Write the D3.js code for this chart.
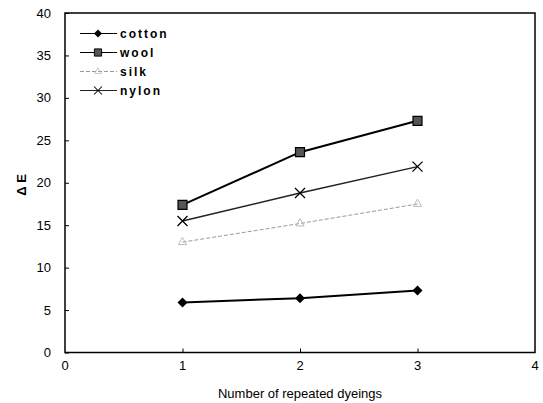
<!DOCTYPE html>
<html>
<head>
<meta charset="utf-8">
<script src="https://cdn.jsdelivr.net/npm/d3@7"></script>
<style>
  body { margin: 0; background: #fff; }
  text { font-family: Arial, 'Liberation Sans', sans-serif; }
</style>
</head>
<body>
<div id="chart"></div>
<script>
// data
var dyeings = [1, 2, 3]
var cotton = [5.9, 6.4, 7.3]
var wool = [17.4, 23.6, 27.3]
var silk = [13.0, 15.2, 17.5]
var nylon = [15.5, 18.8, 21.9]
var xTicks = [0, 1, 2, 3, 4]
var yTicks = [0, 5, 10, 15, 20, 25, 30, 35, 40]
var seriesNames = ['cotton', 'wool', 'silk', 'nylon']

var series = [
  { name: 'cotton', values: cotton },
  { name: 'wool', values: wool },
  { name: 'silk', values: silk },
  { name: 'nylon', values: nylon }
]

var width = 543, height = 403
var plotLeft = 65, plotRight = 535, plotTop = 13, plotBottom = 352.5

var svg = d3.select('#chart').append('svg')
  .attr('width', width)
  .attr('height', height)

var x = d3.scaleLinear().domain([0, 4]).range([plotLeft, plotRight])
var y = d3.scaleLinear().domain([0, 40]).range([plotBottom, plotTop])

// frame
svg.append('rect')
  .attr('x', plotLeft).attr('y', plotTop)
  .attr('width', plotRight - plotLeft).attr('height', plotBottom - plotTop)
  .attr('fill', 'none').attr('stroke', '#000').attr('stroke-width', 1.5)

// y axis, ticks pointing inwards
var yAxis = svg.append('g')
  .attr('transform', 'translate(' + plotLeft + ',0)')
  .call(d3.axisRight(y).tickValues(yTicks).tickSize(4).tickFormat(''))
yAxis.select('.domain').remove()
yAxis.selectAll('line').attr('stroke', '#000')

svg.selectAll('.ylab')
  .data(yTicks)
  .enter().append('text')
  .attr('class', 'ylab')
  .attr('x', 51)
  .attr('y', function (d) { return y(d) })
  .attr('dy', '0.35em')
  .attr('text-anchor', 'end')
  .attr('font-size', 13)
  .text(function (d) { return d })

// x axis, ticks pointing inwards
var xAxis = svg.append('g')
  .attr('transform', 'translate(0,' + plotBottom + ')')
  .call(d3.axisTop(x).tickValues([1, 2, 3]).tickSize(4).tickFormat(''))
xAxis.select('.domain').remove()
xAxis.selectAll('line').attr('stroke', '#000')

svg.selectAll('.xlab')
  .data(xTicks)
  .enter().append('text')
  .attr('class', 'xlab')
  .attr('x', function (d) { return x(d) })
  .attr('y', 370)
  .attr('text-anchor', 'middle')
  .attr('font-size', 13)
  .text(function (d) { return d })

svg.append('text')
  .attr('x', (plotLeft + plotRight) / 2)
  .attr('y', 398)
  .attr('text-anchor', 'middle')
  .attr('font-size', 13)
  .text('Number of repeated dyeings')

svg.append('text')
  .attr('transform', 'translate(26,' + 185 + ') rotate(-90)')
  .attr('text-anchor', 'middle')
  .attr('font-size', 13)
  .attr('font-weight', 'bold')
  .text('Δ E')

// styles per series
function lineStyle (name) {
  if (name == 'silk') return { stroke: '#999', width: 1, dash: '4,2' }
  if (name == 'nylon') return { stroke: '#222', width: 1.5, dash: null }
  return { stroke: '#000', width: 2, dash: null }
}

function drawMarker (g, name, cx, cy, k) {
  k = k || 1
  var t = 'translate(' + cx + ',' + cy + ') scale(' + k + ')'
  if (name == 'cotton') {
    g.append('path')
      .attr('d', 'M0,-5L5,0L0,5L-5,0Z')
      .attr('transform', t)
      .attr('fill', '#000')
  } else if (name == 'wool') {
    g.append('path')
      .attr('d', 'M-4.5,-4.5H4.5V4.5H-4.5Z')
      .attr('transform', t)
      .attr('fill', '#555').attr('stroke', '#000').attr('stroke-width', 1.2)
  } else if (name == 'silk') {
    g.append('path')
      .attr('d', d3.symbol().type(d3.symbolTriangle).size(30)())
      .attr('transform', t)
      .attr('fill', 'none').attr('stroke', '#bbb').attr('stroke-width', 1)
  } else {
    g.append('path')
      .attr('d', 'M-5,-5L5,5M-5,5L5,-5')
      .attr('transform', t)
      .attr('fill', 'none').attr('stroke', '#000').attr('stroke-width', 1.3)
  }
}

var line = d3.line()
  .x(function (d, i) { return x(dyeings[i]) })
  .y(function (d) { return y(d) })

series.forEach(function (s) {
  var st = lineStyle(s.name)
  var g = svg.append('g')
  g.append('path')
    .datum(s.values)
    .attr('d', line)
    .attr('fill', 'none')
    .attr('stroke', st.stroke)
    .attr('stroke-width', st.width)
    .attr('stroke-dasharray', st.dash)
  s.values.forEach(function (v, i) {
    drawMarker(g, s.name, x(dyeings[i]), y(v))
  })
})

// legend
var legY = d3.scaleBand().domain(seriesNames).range([24, 100])
seriesNames.forEach(function (name) {
  var st = lineStyle(name)
  var cy = legY(name) + legY.bandwidth() / 2
  var g = svg.append('g')
  g.append('line')
    .attr('x1', 80).attr('x2', 117)
    .attr('y1', cy).attr('y2', cy)
    .attr('stroke', st.stroke)
    .attr('stroke-width', name == 'silk' ? 1 : 1.2)
    .attr('stroke-dasharray', st.dash)
  drawMarker(g, name, 98, cy, 0.8)
  g.append('text')
    .attr('x', 120)
    .attr('y', cy)
    .attr('dy', '0.35em')
    .attr('font-size', 12)
    .attr('font-weight', 'bold')
    .attr('letter-spacing', 2)
    .text(name)
})
</script>
</body>
</html>
